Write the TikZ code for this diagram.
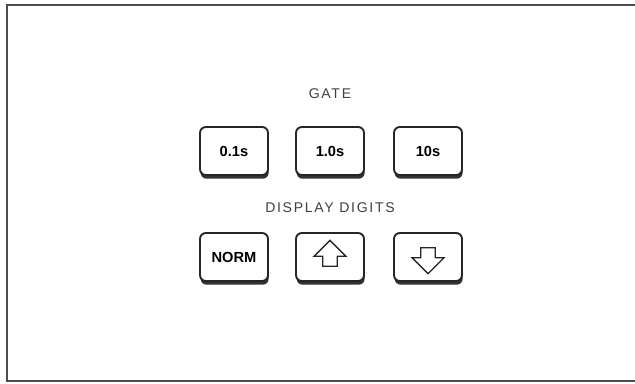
\documentclass[tikz,border=0pt]{standalone}
\usepackage{fontspec}
\setmainfont{Liberation Sans}
\usetikzlibrary{shadows,shapes.arrows}

\begin{document}
\begin{tikzpicture}[
  x=0.03cm, y=-0.03cm,
  key/.style={draw=black!85, line width=1.6pt, rounded corners=5pt, fill=white,
    minimum width=2.04cm, minimum height=1.44cm, inner sep=0pt,
    font=\fontsize{12.5}{14}\selectfont\bfseries,
    drop shadow={shadow xshift=0.02cm, shadow yshift=-0.11cm, fill=black!80, opacity=1}},
  caption/.style={font=\fontsize{12}{14}\selectfont\addfontfeatures{LetterSpace=12}, text=black!75},
  keyarrow/.style={single arrow, draw=black!85, line width=1.1pt, fill=white,
    inner sep=0.2cm, minimum height=0.78cm, single arrow head extend=0.26cm}
]
  \useasboundingbox (0,0) rectangle (635,383);

  % === FRAME (open on the right) ===
  \draw[black!70, line width=1.5pt] (635,5) -- (7,5) -- (7,381) -- (635,381);

  % === GATE ROW ===
  \node[caption] (gate) at (330,94) {GATE};
  \node[key] (g01) at (234,151) {0.1s};
  \node[key] (g10) at (330,151) {1.0s};
  \node[key] (g100) at (428,151) {10s};

  % === DISPLAY DIGITS ROW ===
  \node[caption] (digits) at (330,208) {DISPLAY DIGITS};
  \node[key] (norm) at (234,257) {NORM};
  \node[key] (up) at (330,257) {};
  \node[key] (down) at (428,257) {};

  % arrow glyphs on the keys
  \node[keyarrow, shape border rotate=90] (uparrow) at (up) {};
  \node[keyarrow, shape border rotate=270] (downarrow) at (down) {};
\end{tikzpicture}
\end{document}
